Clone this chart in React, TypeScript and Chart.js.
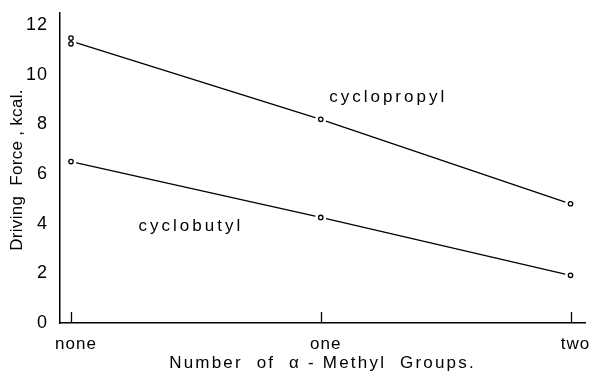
import React, { useEffect, useRef } from "react";
import { Chart, registerables } from "chart.js";

Chart.register(...registerables);

const categories = ["none", "one", "two"];
const categoryPos = [0, 1, 2];
const cyclopropylLine = [11.35, 8.2, 4.8];
const cyclopropylPoints = [
  { x: 0, y: 11.47 },
  { x: 0, y: 11.24 },
  { x: 1, y: 8.2 },
  { x: 2, y: 4.8 },
];
const cyclobutylValues = [6.5, 4.25, 1.92];
const yTicks = [0, 2, 4, 6, 8, 10, 12];
const labels = [
  { text: "cyclopropyl", x: 1.27, y: 9.1 },
  { text: "cyclobutyl", x: 0.48, y: 3.9 },
];
const xTitle = "Number  of  α - Methyl  Groups.";
const yTitle = "Driving  Force , kcal.";

const FONT = "'Liberation Sans', Arial, sans-serif";

export default function App() {
  const ref = useRef<HTMLCanvasElement>(null);
  useEffect(() => {
    document.body.style.margin = "0";
    const canvas = ref.current;
    if (!canvas) return;

    const lineFrom = (vals: number[]) => vals.map((v, i) => ({ x: categoryPos[i], y: v }));
    const cbPts = cyclobutylValues.map((v, i) => ({ x: categoryPos[i], y: v }));
    const allPts = [...cyclopropylPoints, ...cbPts];

    const decor = {
      id: "decor",
      beforeDraw(chart: any) {
        chart.ctx.letterSpacing = "1px";
      },
      afterDraw(chart: any) {
        const ctx = chart.ctx;
        const xs = chart.scales.x;
        const ys = chart.scales.y;
        const area = chart.chartArea;
        ctx.save();
        ctx.strokeStyle = "#000";
        ctx.lineWidth = 1.3;
        const y0 = ys.getPixelForValue(0);
        categoryPos.forEach((p) => {
          const px = Math.round(xs.getPixelForValue(p)) + 0.5;
          ctx.beginPath();
          ctx.moveTo(px, y0);
          ctx.lineTo(px, y0 - 11);
          ctx.stroke();
        });
        ctx.fillStyle = "#000";
        ctx.font = "17px " + FONT;
        ctx.letterSpacing = "3px";
        ctx.textAlign = "center";
        ctx.textBaseline = "middle";
        labels.forEach((l) => {
          ctx.fillText(l.text, xs.getPixelForValue(l.x), ys.getPixelForValue(l.y));
        });
        // axis titles
        ctx.letterSpacing = "2.2px";
        ctx.fillText(xTitle, (area.left + area.right) / 2, 363);
        ctx.save();
        ctx.translate(17, (area.top + area.bottom) / 2 + 2);
        ctx.rotate(-Math.PI / 2);
        ctx.letterSpacing = "0.3px";
        ctx.fillText(yTitle, 0, 0);
        ctx.restore();
        ctx.restore();
      },
    };

    const chart = new Chart(canvas, {
      type: "scatter",
      data: {
        datasets: [
          {
            data: allPts,
            showLine: false,
            pointRadius: 2.2,
            pointBorderWidth: 1.3,
            pointBorderColor: "#000",
            pointBackgroundColor: "#fff",
            order: 1,
          },
          {
            data: allPts,
            showLine: false,
            pointRadius: 5.5,
            pointBorderWidth: 0,
            pointBorderColor: "#fff",
            pointBackgroundColor: "#fff",
            order: 2,
          },
          {
            data: lineFrom(cyclopropylLine),
            showLine: true,
            borderColor: "#000",
            borderWidth: 1.3,
            pointRadius: 0,
            order: 3,
          },
          {
            data: lineFrom(cyclobutylValues),
            showLine: true,
            borderColor: "#000",
            borderWidth: 1.3,
            pointRadius: 0,
            order: 3,
          },
        ],
      },
      options: {
        animation: false,
        responsive: false,
        maintainAspectRatio: false,
        layout: { padding: { top: 13, right: 6, left: 0, bottom: 0 } },
        plugins: { legend: { display: false }, tooltip: { enabled: false } },
        scales: {
          x: {
            type: "linear",
            min: -0.044,
            max: 2.058,
            afterBuildTicks: (s: any) => {
              s.ticks = categoryPos.map((v) => ({ value: v }));
            },
            afterFit: (s: any) => {
              s.height = 50;
              s.paddingLeft = 0;
              s.paddingRight = 0;
            },
            grid: { display: false, drawTicks: false },
            border: { display: true, color: "#000", width: 1.5 },
            ticks: {
              color: "#000",
              padding: 11,
              labelOffset: 5,
              font: { family: FONT, size: 17 },
              callback: (v: any) => categories[categoryPos.indexOf(Number(v))] ?? "",
            },
            title: { display: false },
          },
          y: {
            type: "linear",
            min: 0,
            max: 12.48,
            afterBuildTicks: (s: any) => {
              s.ticks = yTicks.map((v) => ({ value: v }));
            },
            afterFit: (s: any) => {
              s.width = 60;
              s.paddingTop = 0;
              s.paddingBottom = 0;
            },
            grid: { display: false, drawTicks: false },
            border: { display: true, color: "#000", width: 1.5 },
            ticks: {
              color: "#000",
              padding: 12,
              font: { family: FONT, size: 18 },
            },
            title: { display: false },
          },
        },
      },
      plugins: [decor],
    });
    return () => chart.destroy();
  }, []);
  return (
    <div style={{ width: 591, height: 373, background: "#fff" }}>
      <canvas ref={ref} width={591} height={373} />
    </div>
  );
}
